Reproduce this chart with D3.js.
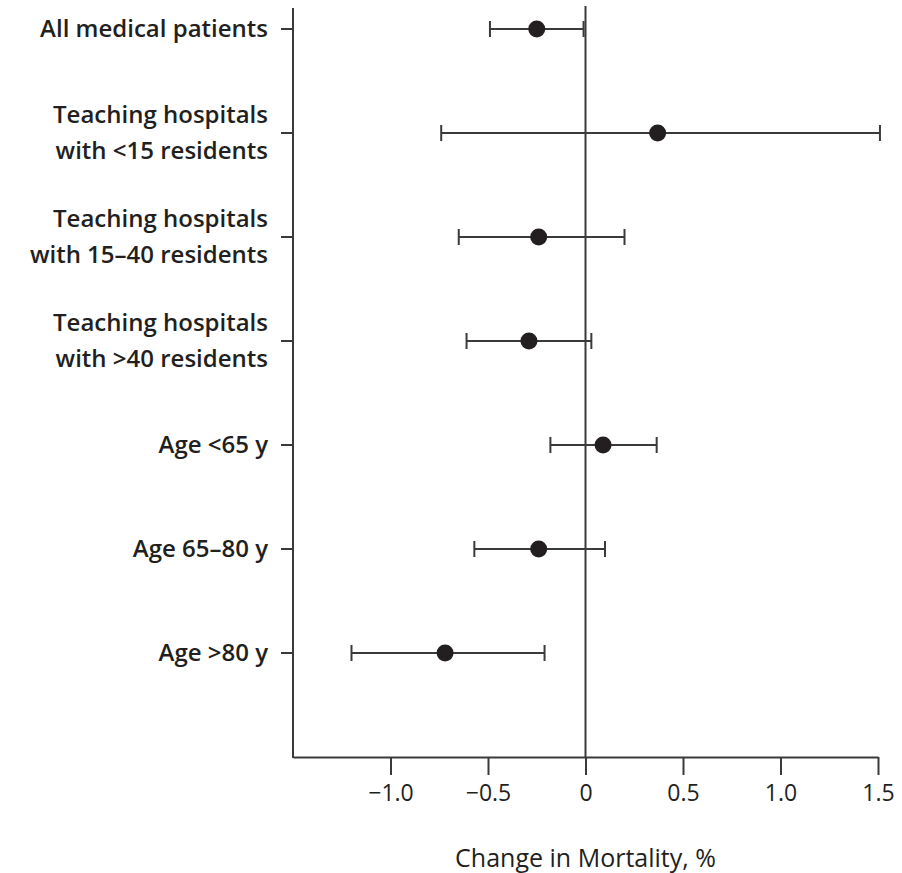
<!DOCTYPE html>
<html>
<head>
<meta charset="utf-8">
<script src="https://cdn.jsdelivr.net/npm/d3@7"></script>
<style>
  body { margin: 0; background: #fff; }
  svg { display: block; }
</style>
</head>
<body>
<svg id="chart" width="902" height="873"></svg>
<script>
// rows, top to bottom
const labels = [
  ['All medical patients'],
  ['Teaching hospitals', 'with <15 residents'],
  ['Teaching hospitals', 'with 15–40 residents'],
  ['Teaching hospitals', 'with >40 residents'],
  ['Age <65 y'],
  ['Age 65–80 y'],
  ['Age >80 y']
];
const estimate = [-0.25, 0.37, -0.24, -0.29, 0.09, -0.24, -0.72];
const lower    = [-0.49, -0.74, -0.65, -0.61, -0.18, -0.57, -1.20];
const upper    = [-0.01, 1.51, 0.20, 0.03, 0.365, 0.10, -0.21];
const xTicks   = [-1.0, -0.5, 0, 0.5, 1.0, 1.5];

const ink = '#231f20', lineCol = '#3a3a3a';
const font = '"Open Sans", sans-serif';
const svg = d3.select('#chart');

// ─── Scales ─────────────────────────────────
const x = d3.scaleLinear().domain([-1.5, 1.5]).range([293, 878]);
const rows = d3.range(labels.length);
const y = d3.scalePoint().domain(d3.range(labels.length + 1)).range([29, 757]);
const yTop = 8, yBottom = y(labels.length);

// ─── Axes ───────────────────────────────────
const xAxis = svg.append('g')
  .attr('transform', `translate(0,${yBottom})`)
  .call(d3.axisBottom(x).tickValues(xTicks).tickSize(18).tickSizeOuter(0)
    .tickFormat(d => d === 0 ? '0' : d3.format('.1f')(d).replace('-', '\u2013')));
xAxis.select('.domain').attr('stroke', lineCol).attr('stroke-width', 2);
xAxis.selectAll('.tick line').attr('stroke', lineCol).attr('stroke-width', 2);
xAxis.selectAll('.tick text')
  .attr('fill', ink).attr('dy', '1.0em')
  .style('font-family', font).style('font-size', '23px');

svg.append('line')
  .attr('x1', x(-1.5)).attr('x2', x(-1.5)).attr('y1', yTop).attr('y2', yBottom + 1)
  .attr('stroke', lineCol).attr('stroke-width', 2);

// zero reference line
svg.append('line')
  .attr('x1', x(0)).attr('x2', x(0)).attr('y1', 6).attr('y2', yBottom)
  .attr('stroke', lineCol).attr('stroke-width', 2);

// row ticks + labels
const rowG = svg.append('g').selectAll('g').data(rows).join('g')
  .attr('transform', i => `translate(0,${y(i)})`);
rowG.append('line')
  .attr('x1', x(-1.5) - 12).attr('x2', x(-1.5)).attr('stroke', lineCol).attr('stroke-width', 2);
rowG.append('text')
  .attr('text-anchor', 'end').attr('fill', ink)
  .style('font-family', font).style('font-size', '24px').style('font-weight', 600)
  .selectAll('tspan').data(i => labels[i].map((t, k) => ({ t, k, n: labels[i].length }))).join('tspan')
  .attr('x', 268)
  .attr('y', d => (d.k - (d.n - 1) / 2) * 36)
  .attr('dy', '0.35em')
  .text(d => d.t);

// ─── Error bars ─────────────────────────────
const bars = svg.append('g').selectAll('g').data(rows).join('g')
  .attr('transform', i => `translate(0,${y(i)})`);
bars.append('line')
  .attr('x1', i => x(lower[i])).attr('x2', i => x(upper[i]))
  .attr('stroke', lineCol).attr('stroke-width', 2);
bars.append('line')
  .attr('x1', i => x(lower[i])).attr('x2', i => x(lower[i])).attr('y1', -8).attr('y2', 8)
  .attr('stroke', lineCol).attr('stroke-width', 2);
bars.append('line')
  .attr('x1', i => x(upper[i])).attr('x2', i => x(upper[i])).attr('y1', -8).attr('y2', 8)
  .attr('stroke', lineCol).attr('stroke-width', 2);
bars.append('circle')
  .attr('cx', i => x(estimate[i])).attr('r', 8.5).attr('fill', ink);

// axis title
svg.append('text')
  .attr('x', x(0)).attr('y', 867).attr('text-anchor', 'middle').attr('fill', ink)
  .style('font-family', font).style('font-size', '25px')
  .text('Change in Mortality, %');
</script>
</body>
</html>
